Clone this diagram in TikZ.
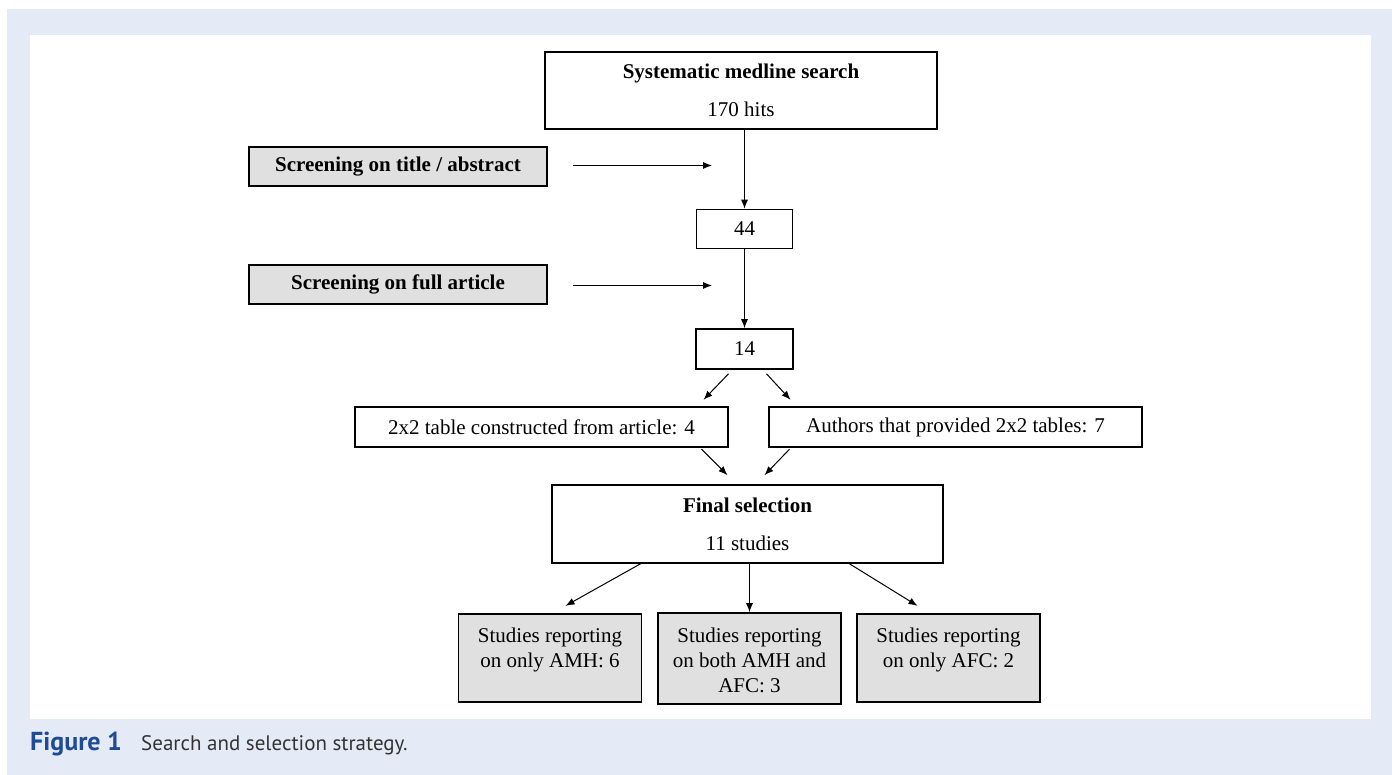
\documentclass[tikz,border=0pt]{standalone}
\usepackage{fontspec}
\setmainfont{Liberation Serif}
\newfontfamily\capfont{PT Sans}
\usetikzlibrary{arrows.meta}
\definecolor{panelblue}{HTML}{E5EBF6}
\definecolor{boxgray}{HTML}{E0E0E0}
\definecolor{figblue}{HTML}{1E4A96}
\definecolor{captext}{HTML}{333333}
\newcommand{\toplines}[1]{\parbox[c][76pt][t]{176pt}{\centering\rule{0pt}{22pt}#1}}

\begin{document}
\begin{tikzpicture}[x=1pt, y=-1pt,
    box/.style={draw, line width=1.6pt, fill=white, font=\fontsize{21}{25}\selectfont, inner sep=0pt},
    screen/.style={box, fill=boxgray, font=\fontsize{21}{25}\selectfont\bfseries, minimum width=298pt, minimum height=39pt},
    outcome/.style={box, fill=boxgray, minimum width=183pt, minimum height=88pt},
    flow/.style={line width=1pt, -{Latex[length=9pt,width=7pt]}}]
    \useasboundingbox (0,0) rectangle (1392,775);
    \fill[panelblue] (7,9) rectangle (1392,775);
    \fill[white] (30,35) rectangle (1371,719);

    \node[box, minimum width=392pt, minimum height=77pt, align=center] (search) at (741,90.5) {\textbf{Systematic medline search}\\[13pt]170 hits};
    \node[screen] (title) at (398,166.5) {Screening on title / abstract};
    \node[box, minimum width=96pt, minimum height=39pt] (n44) at (744.5,229) {44};
    \node[screen] (full) at (398,284.5) {Screening on full article};
    \node[box, minimum width=97pt, minimum height=40pt] (n14) at (744.5,349) {14};
    \node[box, minimum width=373pt, minimum height=40pt] (constructed) at (541.5,427) {2x2 table constructed from article: 4};
    \node[box, minimum width=373pt, minimum height=40pt] (authors) at (955.5,427) {Authors that provided 2x2 tables: 7};
    \node[box, minimum width=391pt, minimum height=78pt, align=center] (final) at (747.5,524) {\textbf{Final selection}\\[13pt]11 studies};
    \node[outcome] (amh) at (550,658) {\toplines{Studies reporting\\ on only AMH: 6}};
    \node[outcome, minimum height=91pt] (both) at (749.5,658.5) {\toplines{Studies reporting\\ on both AMH and\\ AFC: 3}};
    \node[outcome] (afc) at (948.5,658) {\toplines{Studies reporting\\ on only AFC: 2}};

    \coordinate (gap1) at (712,165.5);
    \coordinate (gap2) at (712,285.5);
    \draw[flow] ([xshift=25pt,yshift=1pt]title.east) -- (gap1);
    \draw[flow] ([xshift=25pt,yshift=-1pt]full.east) -- (gap2);
    \draw[flow] (n44.north |- search.south) -- (n44.north);
    \draw[flow] (n44) -- (n14);
    \draw[flow] ([xshift=-16pt,yshift=-4pt]n14.south) -- ([xshift=-41pt,yshift=-30pt]n14.south);
    \draw[flow] ([xshift=22pt,yshift=-4pt]n14.south) -- ([xshift=46pt,yshift=-30pt]n14.south);
    \draw[flow] ([xshift=-46pt,yshift=35pt]final.north) -- ([xshift=-20pt,yshift=9pt]final.north);
    \draw[flow] ([xshift=42pt,yshift=35pt]final.north) -- ([xshift=17pt,yshift=9pt]final.north);
    \draw[flow] ([xshift=-107pt]final.south) -- ([xshift=-182pt,yshift=-42pt]final.south);
    \draw[flow] (final.south -| both.north) -- (both.north);
    \draw[flow] ([xshift=102pt]final.south) -- ([xshift=170pt,yshift=-42pt]final.south);

    \node[anchor=base west, inner sep=0pt, text=figblue, font=\capfont\fontsize{26}{30}\selectfont\bfseries] (fig) at (30,750) {Figure 1};
    \node[anchor=base west, inner sep=0pt, text=captext, font=\capfont\fontsize{21}{25}\selectfont] (cap) at (141,750) {Search and selection strategy.};
\end{tikzpicture}
\end{document}
